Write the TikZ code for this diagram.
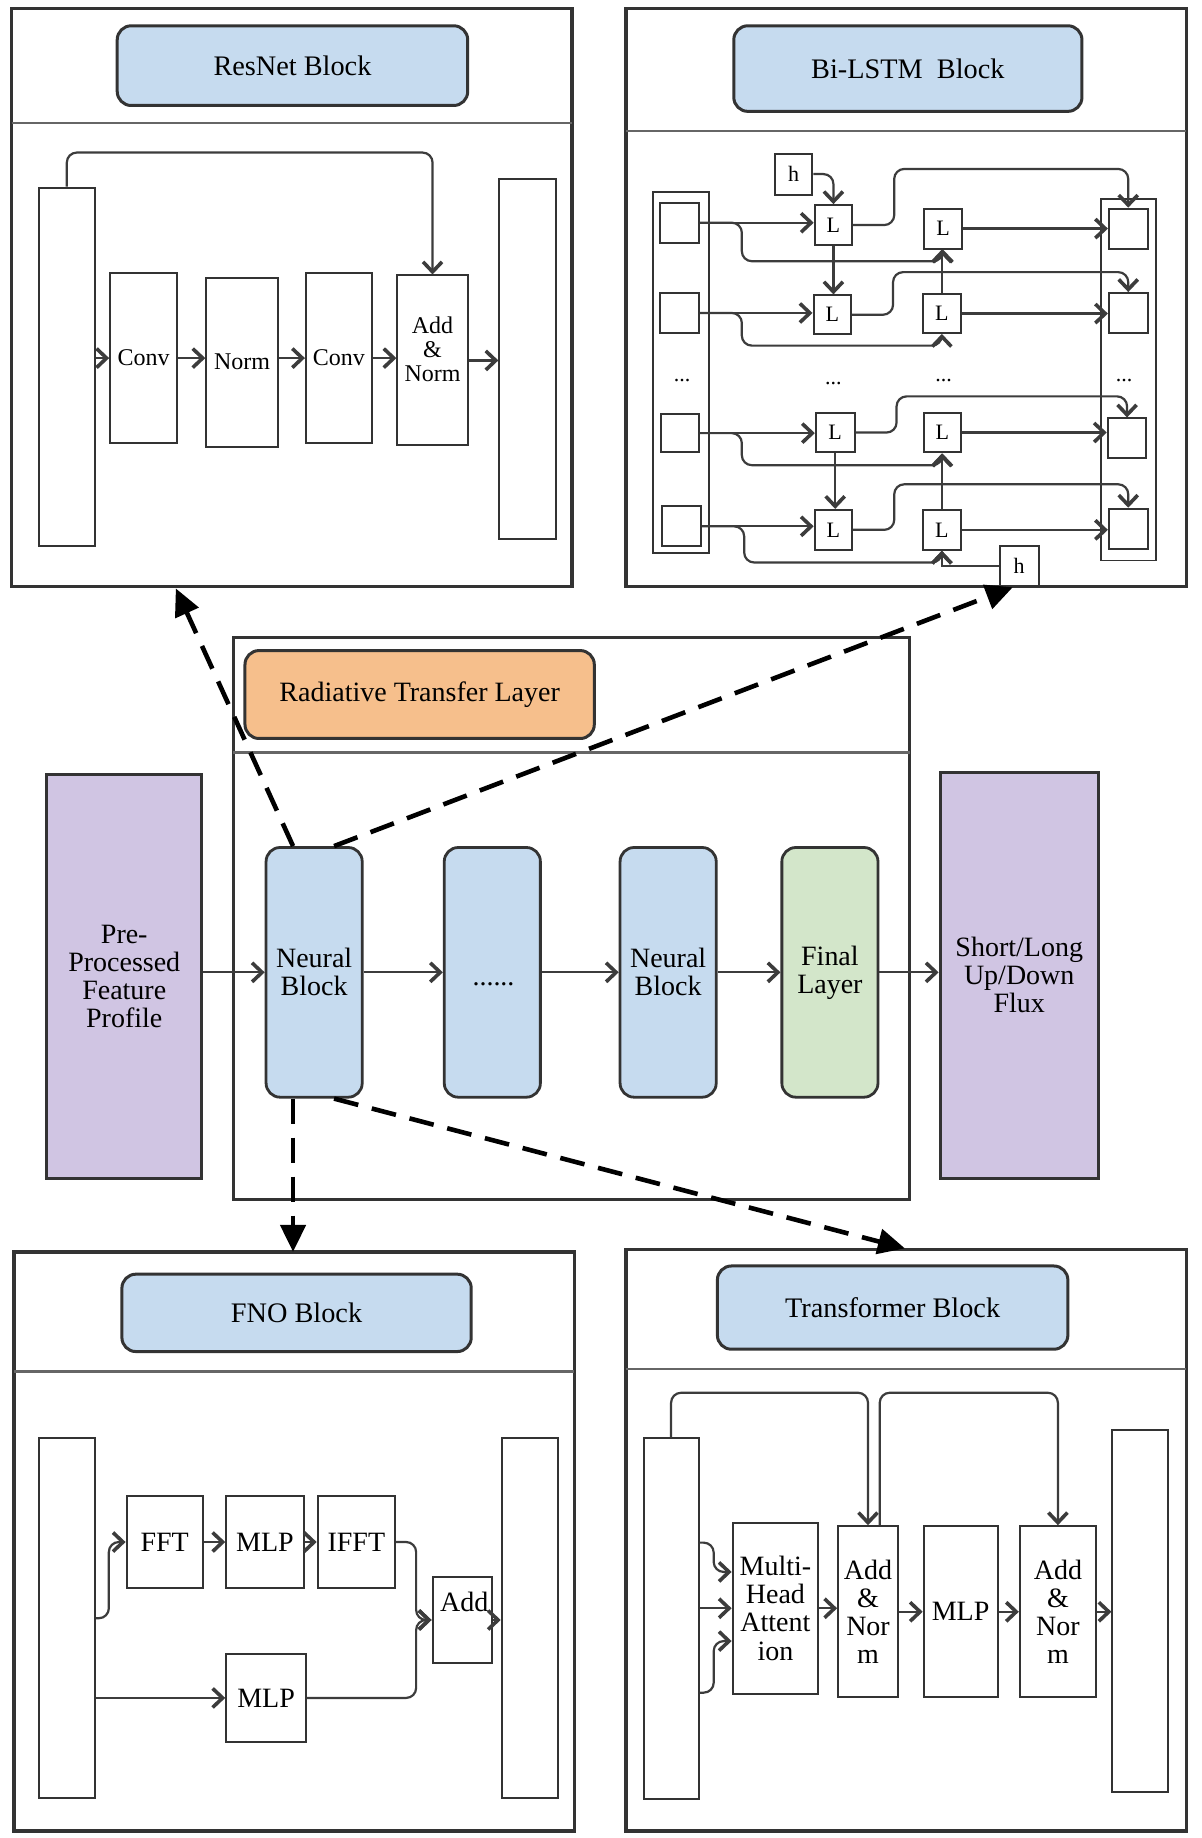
\documentclass[tikz,border=0pt]{standalone}
\usepackage{fontspec}
\setmainfont{Liberation Serif}
\usetikzlibrary{arrows.meta,calc}
\definecolor{blueT}{HTML}{C6DBEF}
\definecolor{orangeT}{HTML}{F6BF8C}
\definecolor{greenT}{HTML}{D3E6CA}
\definecolor{purpT}{HTML}{D0C5E3}
\definecolor{lineC}{HTML}{333333}
\definecolor{connC}{HTML}{3C3C3C}
\newcommand{\fsz}[1]{\fontsize{#1}{#1}\selectfont}
% box from (x1,y1) to (x2,y2) in picture units
\newcommand{\bx}[7]{%
  \pgfmathsetmacro\bxw{(#5-#3)*1.1727}%
  \pgfmathsetmacro\bxh{(#6-#4)*1.1727}%
  \node[#1,minimum width=\bxw pt,minimum height=\bxh pt] (#2) at ({(#3+#5)/2},{(#4+#6)/2}) {#7};}
\begin{document}
\begin{tikzpicture}[x=1.1727pt,y=-1.1727pt,
 panel/.style={draw=lineC,line width=3.2pt,inner sep=0pt},
 divider/.style={draw=black!60,line width=2.4pt},
 titlebox/.style={draw=lineC,line width=3pt,rounded corners=14pt,fill=blueT,inner sep=0pt,font=\fsz{28.3}},
 inbox/.style={draw=lineC,line width=2pt,fill=white,inner sep=0pt,align=center},
 thinbox/.style={draw=lineC,line width=1.6pt,inner sep=0pt},
 nbox/.style={draw=lineC,line width=2.8pt,rounded corners=14pt,fill=blueT,inner sep=0pt,align=center,font=\fsz{28}},
 pbox/.style={draw=lineC,line width=3pt,fill=purpT,inner sep=0pt,align=center,font=\fsz{28}},
 conn/.style={draw=connC,line width=2.2pt,rounded corners=10pt,-{Straight Barb[length=10pt,width=19pt,line width=3.6pt]}},
 dasharrow/.style={draw=black,line width=4.6pt,dash pattern=on 25pt off 14pt,-{Triangle[length=27pt,width=25pt]}},
]
\useasboundingbox (0,0) rectangle (1025,1568);
\fill[white] (0,0) rectangle (1025,1568);

% ================= ResNet =================
\bx{panel}{rn}{10}{7}{488}{500}{}
\draw[divider] (10,105) -- (488,105);
\bx{titlebox}{rnt}{100}{22}{399}{90}{ResNet Block}
\begin{scope}[every node/.append style={font=\fsz{24}}]
\bx{inbox}{rnin}{33}{160}{81}{466}{}
\bx{inbox}{rc1}{94}{233}{151}{378}{Conv}
\bx{inbox}{rnorm}{176}{237}{237}{381}{Norm}
\bx{inbox}{rc2}{261}{233}{317}{378}{Conv}
\bx{inbox}{radd}{339}{235}{399}{380}{}
\node[align=center] (raddt) at (369,298) {Add\\\&\\Norm};
\bx{inbox}{rout}{426}{153}{474}{460}{}
\end{scope}
\draw[conn] (rnin.east |- rc1.west) -- (rc1.west);
\draw[conn] (rc1.east) -- (rc1.east -| rnorm.west);
\draw[conn] (rnorm.east |- rc2.west) -- (rc2.west);
\draw[conn] (rc2.east) -- (rc2.east -| radd.west);
\draw[conn] (radd.east) -- (radd.east -| rout.west);
\draw[conn] (rnin.north) -- ++(0,-29) -| (radd.north);

% ================= Bi-LSTM =================
\bx{panel}{bl}{534}{7}{1012}{500}{}
\draw[divider] (534,112) -- (1012,112);
\bx{titlebox}{blt}{626}{22}{923}{95}{Bi-LSTM~~Block}
\bx{thinbox}{lcol}{557}{164}{605}{472}{}
\bx{thinbox}{rcol}{939}{170}{986}{478}{}
\begin{scope}[every node/.append style={font=\fsz{22}}]
\bx{inbox}{lq1}{563}{173}{596}{207}{}
\bx{inbox}{lq2}{563}{250}{596}{284}{}
\bx{inbox}{lq3}{564}{353}{596}{386}{}
\bx{inbox}{lq4}{565}{432}{598}{466}{}
\bx{inbox}{la1}{695}{175}{727}{209}{L}
\bx{inbox}{la2}{694}{252}{726}{285}{L}
\bx{inbox}{la3}{696}{352}{729}{386}{L}
\bx{inbox}{la4}{695}{435}{727}{469}{L}
\bx{inbox}{lb1}{788}{178}{821}{212}{L}
\bx{inbox}{lb2}{787}{251}{820}{284}{L}
\bx{inbox}{lb3}{788}{352}{820}{386}{L}
\bx{inbox}{lb4}{787}{435}{820}{469}{L}
\bx{inbox}{rq1}{946}{178}{979}{212}{}
\bx{inbox}{rq2}{946}{250}{979}{284}{}
\bx{inbox}{rq3}{945}{357}{978}{391}{}
\bx{inbox}{rq4}{946}{434}{979}{468}{}
\bx{inbox}{ht}{661}{131}{693}{166}{h}
\bx{inbox}{hb}{853}{466}{886}{500}{h}
\node (dt1) at (582,325) {...};
\node (dt2) at (711,327) {...};
\node (dt3) at (805,325) {...};
\node (dt4) at (959,325) {...};
\end{scope}
% row connections
\foreach \i/\lo/\hi in {1/10/33,2/10/17,3/10/18,4/10/20}{
  \draw[conn] (lq\i.east) -- (lq\i.east -| la\i.west);
  \draw[conn] (lq\i.east) -- ++(36,0) |- ($(lb\i.south)+(0,\lo)$) [sharp corners] -- (lb\i.south);
  \draw[conn] (la\i.east) -- ++(35,0) |- ($(rq\i.north)+(0,-\hi)$) -- (rq\i.north);
  \draw[conn] (lb\i.east) -- (lb\i.east -| rq\i.west);
}
\draw[conn] (la1.south) -- (la1.south |- la2.north);
\draw[conn] (la3.south) -- (la3.south |- la4.north);
\draw[conn] (lb2.north) -- (lb2.north |- lb1.south);
\draw[conn] (lb4.north) -- (lb4.north |- lb3.south);
\draw[conn] (ht.east) -| (la1.north);
\draw[conn,sharp corners] (hb.west) -| (lb4.south);

% ================= Radiative Transfer =================
\bx{panel,line width=2.8pt}{rt}{199}{544}{776}{1023}{}
\draw[divider] (199,642) -- (776,642);
\bx{titlebox,fill=orangeT,font=\fsz{28}}{rtt}{209}{555}{507}{630}{Radiative Transfer Layer}
\bx{pbox}{pre}{40}{661}{172}{1005}{Pre-\\Processed\\Feature\\Profile}
\bx{nbox}{nb1}{227}{723}{309}{936}{Neural\\Block}
\bx{nbox}{nbd}{379}{723}{461}{936}{}
\node[font=\fsz{28}] (nbdt) at (421,840) {......};
\bx{nbox}{nb2}{529}{723}{611}{936}{Neural\\Block}
\bx{nbox,fill=greenT}{fin}{667}{723}{749}{936}{Final\\Layer}
\bx{pbox}{outp}{802}{659}{937}{1005}{Short/Long\\Up/Down\\Flux}
\draw[conn] (pre.east |- nb1.west) -- (nb1.west);
\draw[conn] (nb1.east) -- (nbd.west);
\draw[conn] (nbd.east) -- (nb2.west);
\draw[conn] (nb2.east) -- (fin.west);
\draw[conn] (fin.east) -- (fin.east -| outp.west);

% ================= FNO =================
\bx{panel}{fno}{12}{1068}{490}{1562}{}
\draw[divider] (12,1170) -- (490,1170);
\bx{titlebox}{fnot}{104}{1087}{402}{1153}{FNO Block}
\begin{scope}[every node/.append style={font=\fsz{28}}]
\bx{inbox}{fin1}{33}{1227}{81}{1534}{}
\bx{inbox}{fft}{108}{1276}{173}{1355}{FFT}
\bx{inbox}{fmlp1}{193}{1276}{259}{1355}{MLP}
\bx{inbox}{ifft}{271}{1276}{337}{1355}{IFFT}
\bx{inbox}{fadd}{369}{1345}{420}{1419}{}
\node (faddt) at (396,1367) {Add};
\bx{inbox}{fmlp2}{193}{1411}{261}{1486}{MLP}
\bx{inbox}{fout}{428}{1227}{476}{1534}{}
\end{scope}
\coordinate (fj) at (355,1382);
\draw[conn] (fin1.east) -- ++(11,0) |- (fft.west);
\draw[conn] (fft.east) -- (fmlp1.west);
\draw[conn] (fmlp1.east) -- (ifft.west);
\draw[conn] (ifft.east) -| (fj) -- (fadd.west);
\draw[conn] (fin1.east |- fmlp2.west) -- (fmlp2.west);
\draw[conn] (fmlp2.east) -| (fj) -- (fadd.west);
\draw[conn] (fadd.east) -- (fadd.east -| fout.west);

% ================= Transformer =================
\bx{panel}{tr}{534}{1066}{1012}{1562}{}
\draw[divider] (534,1168) -- (1012,1168);
\bx{titlebox}{trt}{612}{1080}{911}{1151}{Transformer Block}
\begin{scope}[every node/.append style={font=\fontsize{28}{28.3}\selectfont}]
\bx{inbox}{tin}{549}{1227}{596}{1535}{}
\bx{inbox}{tmha}{625}{1299}{698}{1445}{Multi-\\Head\\Attent\\ion}
\bx{inbox}{tadd1}{715}{1302}{766}{1448}{Add\\\&\\Nor\\m}
\bx{inbox}{tmlp}{788}{1302}{851}{1448}{MLP}
\bx{inbox}{tadd2}{870}{1302}{935}{1448}{Add\\\&\\Nor\\m}
\bx{inbox}{tout}{949}{1220}{996}{1529}{}
\end{scope}
\draw[conn] ($(tin.east)+(0,-65)$) -- ++(12,0) |- ($(tmha.west)+(0,-31)$);
\draw[conn] (tin.east |- tmha.west) -- (tmha.west);
\draw[conn] ($(tin.east)+(0,63)$) -- ++(12,0) |- ($(tmha.west)+(0,28)$);
\draw[conn] (tmha.east) -- (tmha.east -| tadd1.west);
\draw[conn] (tadd1.east) -- (tmlp.west);
\draw[conn] (tmlp.east) -- (tadd2.west);
\draw[conn] (tadd2.east) -- (tadd2.east -| tout.west);
\draw[conn] (tin.north) -- ++(0,-38) -| (tadd1.north);
\draw[conn] ($(tadd1.north)+(10,0)$) -- ++(0,-113) -| (tadd2.north);

% ================= dashed links =================
\coordinate (tipRN) at (150,502);
\coordinate (tipBL) at (864,501);
\coordinate (tipFN) at (250,1068);
\coordinate (tipTR) at (772,1065);
\draw[dasharrow] ($(nb1.north)+(-18,0)$) -- (tipRN);
\draw[dasharrow] ($(nb1.north)+(17,0)$) -- (tipBL);
\draw[dasharrow] ($(nb1.south)+(-18,0)$) -- (tipFN);
\draw[dasharrow] ($(nb1.south)+(17,0)$) -- (tipTR);
\end{tikzpicture}
\end{document}
